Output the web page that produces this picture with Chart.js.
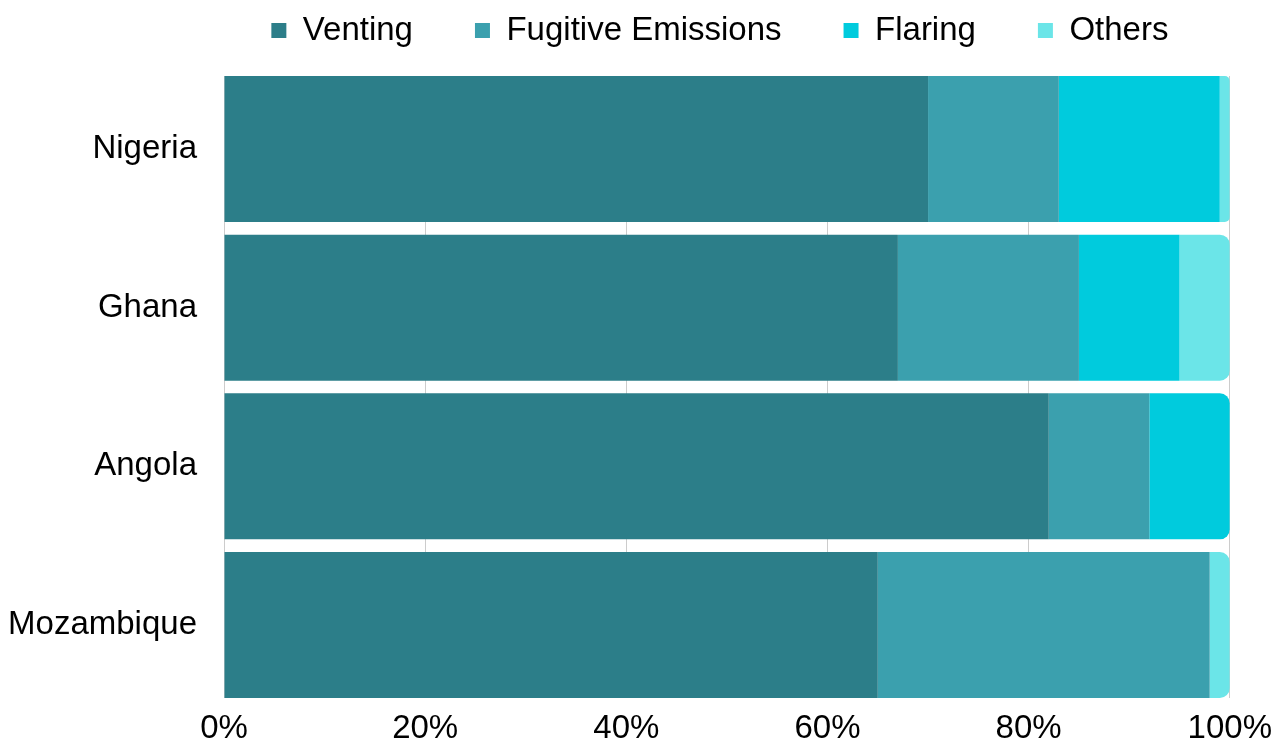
<!DOCTYPE html>
<html>
<head>
<meta charset="utf-8">
<script src="https://cdn.jsdelivr.net/npm/chart.js@4"></script>
<style>
    html, body { margin: 0; padding: 0; background: #fff; }
    #wrap { width: 1283px; height: 748px; }
</style>
</head>
<body>
<div id="wrap"><canvas id="myChart"></canvas></div>
<script>
// share of emissions by source, percent
var countries = ['Nigeria', 'Ghana', 'Angola', 'Mozambique'];
var venting = [70, 67, 82, 65];
var fugitive = [13, 18, 10, 33];
var flaring = [16, 10, 8, 0];
var others = [1, 5, 0, 2];
var xTicks = [0, 20, 40, 60, 80, 100];

var seriesNames = ['Venting', 'Fugitive Emissions', 'Flaring', 'Others'];
var seriesValues = [venting, fugitive, flaring, others];
var seriesColors = ['#2c7e89', '#3ba0ae', '#00cbdd', '#6be5e8'];

var legendHeight = 76;
var legendShiftX = -7;
var legendShiftY = -48;

// only the right-most segment of each bar gets the rounded end
function lastSegment(index){
    let last = 0;
    for (let s = 0; s < seriesValues.length; s++) {
        if (seriesValues[s][index] > 0) last = s;
    }
    return last;
}

// legend: fixed height, row centred over the plot area
var legendPlacement = {
    id: 'legendPlacement',
    afterInit: function(chart){
        const legend = chart.legend;
        const fit = legend.fit;
        const draw = legend.draw;
        legend.fit = function(){
            fit.call(this);
            this.height = legendHeight;
        };
        legend.draw = function(){
            const pad = this.options.labels.padding;
            const rowWidth = this.lineWidths[0];
            const currentX = (this.left + pad + this.right - rowWidth) / 2;
            const area = chart.chartArea;
            const wantedX = (area.left + area.right) / 2 - (rowWidth - pad) / 2 + legendShiftX;
            const ctx = this.ctx;
            const top = this.top;
            this.top = top + legendShiftY;
            ctx.save();
            ctx.translate(wantedX - currentX, 0);
            draw.call(this);
            ctx.restore();
            this.top = top;
        };
    }
};

var datasets = seriesNames.map(function(name, s){
    return {
        label: name,
        data: seriesValues[s],
        backgroundColor: seriesColors[s],
        borderWidth: 0,
        categoryPercentage: 1,
        barPercentage: 0.92,
        borderRadius: function(ctx){
            if (lastSegment(ctx.dataIndex) === s) {
                return { topLeft: 0, bottomLeft: 0, topRight: 10, bottomRight: 10 };
            }
            return 0;
        }
    };
});

Chart.defaults.font.family = '"Liberation Sans", Arial, sans-serif';
Chart.defaults.color = '#000';

new Chart('myChart', {
    type: 'bar',
    data: {
        labels: countries,
        datasets: datasets
    },
    plugins: [legendPlacement],
    options: {
        indexAxis: 'y',
        responsive: true,
        maintainAspectRatio: false,
        animation: false,
        layout: { padding: { left: 8, right: 25, top: 0, bottom: 0 } },
        plugins: {
            tooltip: { enabled: false },
            legend: {
                position: 'top',
                labels: {
                    font: { size: 33 },
                    boxWidth: 15,
                    boxHeight: 15,
                    padding: 62
                }
            }
        },
        scales: {
            x: {
                stacked: true,
                min: 0,
                max: 100,
                afterBuildTicks: function(axis){
                    axis.ticks = xTicks.map(function(v){ return { value: v }; });
                },
                afterFit: function(axis){
                    axis.height = 50;
                },
                ticks: {
                    font: { size: 33 },
                    padding: 11,
                    callback: function(v){ return v + '%'; }
                },
                grid: { color: '#cccccc', lineWidth: 1, drawTicks: false },
                border: { display: false }
            },
            y: {
                stacked: true,
                // first and last bars sit flush with the plot edges
                afterBuildTicks: function(axis){
                    axis._startValue = -0.46;
                    axis._valueRange = countries.length - 0.08;
                },
                afterFit: function(axis){
                    axis.width = 216;
                },
                ticks: { font: { size: 33 }, padding: 27 },
                grid: { display: false, drawTicks: false },
                border: { display: false }
            }
        }
    }
});
</script>
</body>
</html>
